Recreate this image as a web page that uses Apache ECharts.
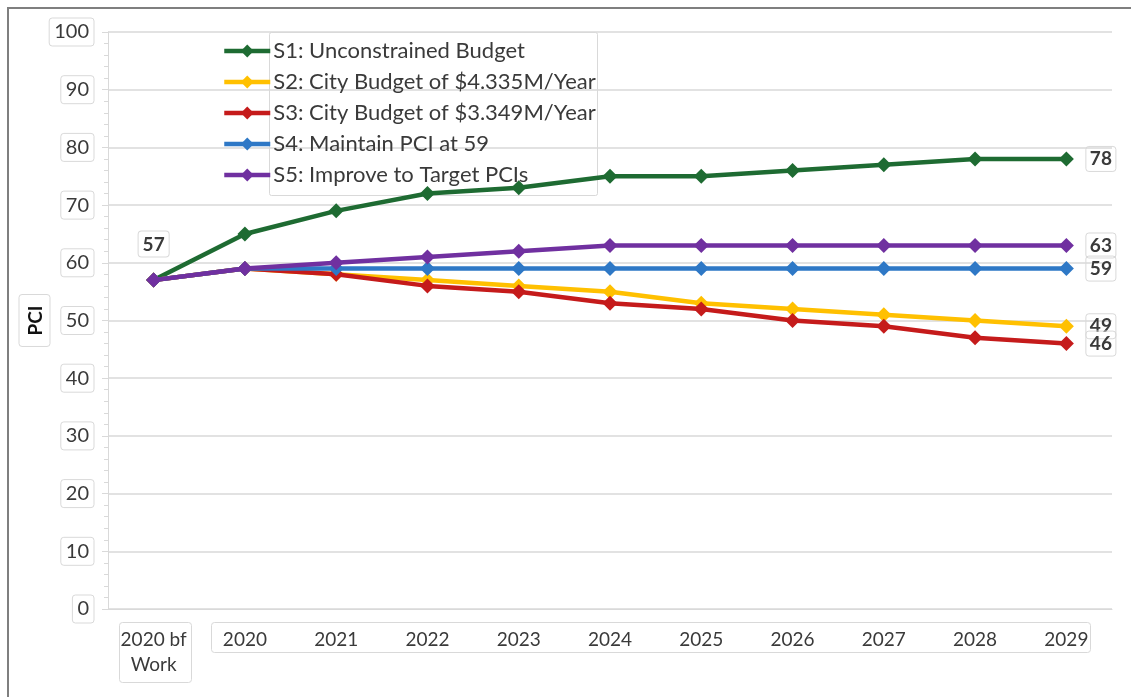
<!DOCTYPE html>
<html>
<head>
<meta charset="utf-8">
<script src="https://cdn.jsdelivr.net/npm/echarts@6/dist/echarts.min.js"></script>
<style>
html,body{margin:0;padding:0;background:#fff;}
#c{width:1131px;height:697px;}
</style>
</head>
<body>
<div id="c"></div>
<script>
const categories = ['2020 bf\nWork','2020','2021','2022','2023','2024','2025','2026','2027','2028','2029'];
const seriesNames = ['S1: Unconstrained Budget','S2: City Budget of $4.335M/Year','S3: City Budget of $3.349M/Year','S4: Maintain PCI at 59','S5: Improve to Target PCIs'];
const s1 = [57,65,69,72,73,75,75,76,77,78,78];
const s2 = [57,59,58,57,56,55,53,52,51,50,49];
const s3 = [57,59,58,56,55,53,52,50,49,47,46];
const s4 = [57,59,59,59,59,59,59,59,59,59,59];
const s5 = [57,59,60,61,62,63,63,63,63,63,63];
const colors = ['#1e6b32','#ffc000','#c51b1b','#2e78c6','#7030a0'];
const yTicks = {min:0,max:100,interval:10};

const FONT = 'Lato';
const TXT = '#3a3a3a';
const BOX = '#d9d9d9';

const boxLabel = {
  show:true, fontFamily:FONT, fontSize:19, fontWeight:'bold', color:TXT,
  borderColor:BOX, borderWidth:1, borderRadius:3, padding:[4,4,2,4]
};

function mkData(arr, idx){
  return arr.map((v,i)=>{
    if(i===arr.length-1){
      return {value:v,label:Object.assign({},boxLabel,{position:'right',distance:12})};
    }
    if(i===0 && idx===0){
      return {value:v,label:Object.assign({},boxLabel,{position:'top',distance:16,backgroundColor:'#fff'})};
    }
    return v;
  });
}

const allData=[s1,s2,s3,s4,s5];
const series = allData.map((arr,k)=>({
  name:seriesNames[k], type:'line', data:mkData(arr,k),
  symbol:'diamond', symbolSize:15,
  lineStyle:{width:4.5,color:colors[k]},
  itemStyle:{color:colors[k]},
  label:{show:false},
  labelLayout:{hideOverlap:false},
  emphasis:{disabled:true},
  z:2+k
}));

const chart = echarts.init(document.getElementById('c'),null,{renderer:'canvas'});
const option = {
  animation:false,
  backgroundColor:'#fff',
  textStyle:{fontFamily:FONT},
  grid:{left:108,right:19,top:32,bottom:88,containLabel:false},
  legend:{
    orient:'vertical', left:222, top:40, padding:0, itemGap:9,
    itemWidth:46, itemHeight:16,
    lineStyle:{width:4.5},
    textStyle:{fontFamily:FONT,fontSize:22,color:TXT,padding:[0,0,0,-2]},
    data:seriesNames
  },
  xAxis:{
    type:'category', data:categories, boundaryGap:true,
    axisLine:{show:true,lineStyle:{color:BOX,width:1}},
    axisTick:{show:false},
    axisLabel:{
      fontFamily:FONT,fontSize:19,color:TXT,margin:18,interval:0,lineHeight:25,
      formatter:(v)=> v.indexOf('\n')>=0 ? '{b|'+v.replace('\n','}\n{b|')+'}' : v,
      rich:{b:{fontFamily:FONT,fontSize:19,color:TXT,lineHeight:25}}
    }
  },
  yAxis:{
    type:'value', min:yTicks.min, max:yTicks.max, interval:yTicks.interval,
    name:'PCI', nameLocation:'middle', nameGap:58, nameRotate:90, nameMoveOverlap:false,
    nameTextStyle:{fontFamily:FONT,fontSize:19,fontWeight:'bold',color:'#111',
      borderColor:BOX,borderWidth:1,borderRadius:3,padding:[7,11,5,11]},
    axisLine:{show:true,lineStyle:{color:BOX,width:1}},
    axisTick:{show:true,length:6,lineStyle:{color:BOX}},
    minorTick:{show:true,splitNumber:5,length:4,lineStyle:{color:BOX}},
    splitLine:{show:true,lineStyle:{color:BOX,width:1.5}},
    axisLabel:{fontFamily:FONT,fontSize:20,color:TXT,margin:14,
      borderColor:BOX,borderWidth:1,borderRadius:3,padding:[5,5,3,5]}
  },
  series:series
};
chart.setOption(option);

// decorative boxes computed from axis pixel positions
const xa = chart.convertToPixel({xAxisIndex:0}, categories[1]);
const xb = chart.convertToPixel({xAxisIndex:0}, categories[categories.length-1]);
const y0 = chart.convertToPixel({yAxisIndex:0}, 0);
chart.setOption({
  graphic:[
    {type:'rect',silent:true,shape:{x:8,y:8,width:1300,height:1000},style:{fill:null,stroke:'#7f7f7f',lineWidth:2},z:0},
    {type:'rect',silent:true,shape:{x:Math.round(xa-34)+0.5,y:Math.round(y0+13)+0.5,width:Math.round(xb-xa+58),height:30,r:3},style:{fill:null,stroke:BOX,lineWidth:1},z:1},
    {type:'rect',silent:true,shape:{x:Math.round(chart.convertToPixel({xAxisIndex:0},categories[0])-35)+0.5,y:Math.round(y0+13)+0.5,width:72,height:60,r:3},style:{fill:null,stroke:BOX,lineWidth:1},z:1},
    {type:'rect',silent:true,shape:{x:269.5,y:32.5,width:328,height:163,r:2},style:{fill:null,stroke:BOX,lineWidth:1},z:1}
  ]
});
</script>
</body>
</html>
